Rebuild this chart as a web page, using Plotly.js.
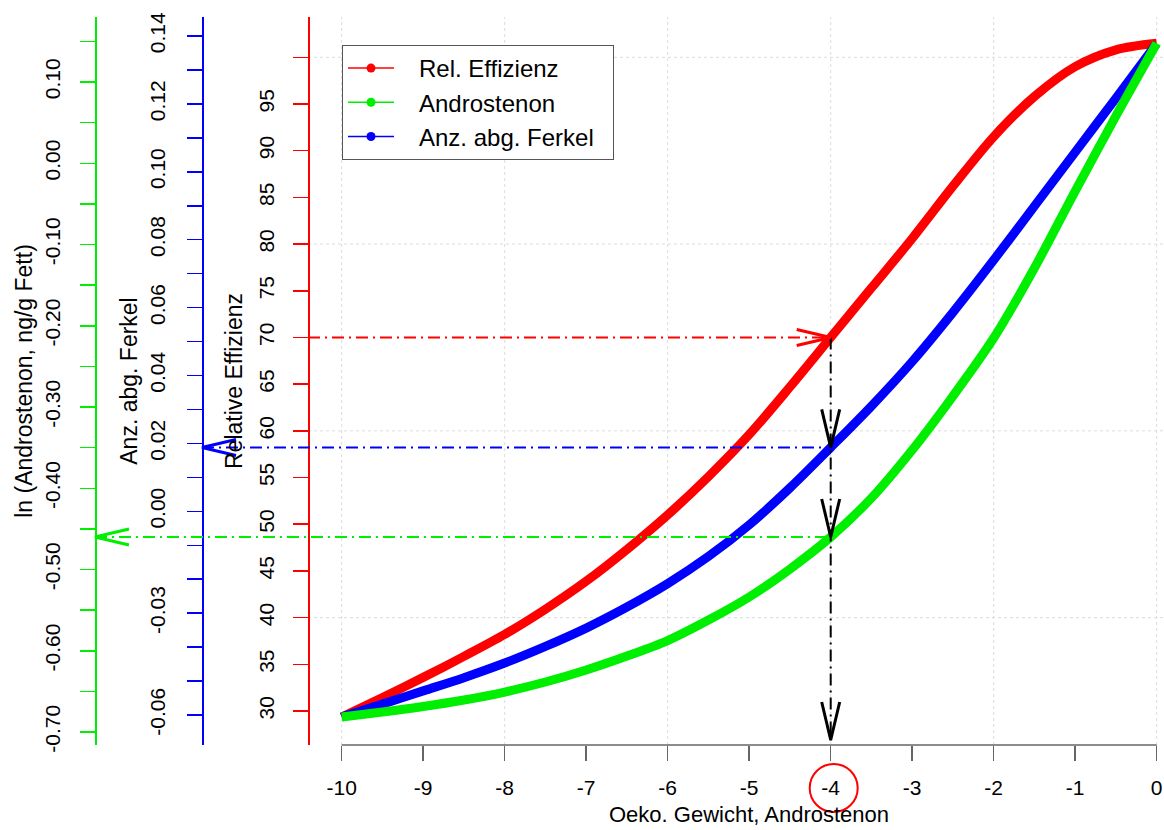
<!DOCTYPE html>
<html>
<head>
<meta charset="utf-8">
<script src="https://cdn.plot.ly/plotly-3.0.1.min.js"></script>
<style>
  html, body { margin: 0; padding: 0; background: #ffffff; }
  #chart { width: 1164px; height: 830px; }
</style>
</head>
<body>
<div id="chart"></div>
<script>
// Economic weight on androstenon and the response of three traits
const oekoGewicht = [-10, -9.5, -9, -8.5, -8, -7.5, -7, -6.5, -6, -5.5, -5, -4.5, -4, -3.5, -3, -2.5, -2, -1.5, -1, -0.5, 0];
const relEffizienz = [29.36, 31.45, 33.6, 35.85, 38.2, 40.9, 43.9, 47.3, 51.0, 55.1, 59.6, 64.7, 70.0, 75.3, 80.6, 86.2, 91.5, 95.8, 99.0, 100.8, 101.5];
const anzAbgFerkel = [-0.0606, -0.0568, -0.0529, -0.0490, -0.0447, -0.0398, -0.0344, -0.0282, -0.0213, -0.0133, -0.0040, 0.0069, 0.0188, 0.0310, 0.0441, 0.0586, 0.0740, 0.0899, 0.1058, 0.1217, 0.1378];
const lnAndrostenon = [-0.6815, -0.6754, -0.6686, -0.6606, -0.6508, -0.6385, -0.6237, -0.6065, -0.5874, -0.5622, -0.5338, -0.4994, -0.4600, -0.4120, -0.3529, -0.2865, -0.2151, -0.1289, -0.0342, 0.0582, 0.1476];

// Tick labels
const xTickVals = [-10, -9, -8, -7, -6, -5, -4, -3, -2, -1, 0];
const effTickVals = [30, 35, 40, 45, 50, 55, 60, 65, 70, 75, 80, 85, 90, 95, 100];
const effTickText = ['30', '35', '40', '45', '50', '55', '60', '65', '70', '75', '80', '85', '90', '95', ''];
const ferkelTickVals = [-0.06, -0.03, 0, 0.02, 0.04, 0.06, 0.08, 0.10, 0.12, 0.14];
const ferkelTickText = ['-0.06', '-0.03', '0.00', '0.02', '0.04', '0.06', '0.08', '0.10', '0.12', '0.14'];
const androTickVals = [-0.7, -0.6, -0.5, -0.4, -0.3, -0.2, -0.1, 0, 0.1];
const androTickText = ['-0.70', '-0.60', '-0.50', '-0.40', '-0.30', '-0.20', '-0.10', '0.00', '0.10'];

// Reference grid
const gridX = [-10, -8, -6, -4, -2, 0];
const gridY = [40, 60, 80, 100];

const markedWeight = -4;

// ---- geometry ----
const W = 1164, H = 830;
const X_DOMAIN = [308 / W, 1];
const Y_DOMAIN = [85 / H, 813 / H];
const X_RANGE = [-10.4135, 0.0896];
const EFF_RANGE = [26.3592, 104.316];
const FERKEL_RANGE = [-0.068837, 0.145596];
const ANDRO_RANGE = [-0.716, 0.18];
const FERKEL_POS = 202 / W;
const ANDRO_POS = 95 / W;

const RED = '#ff0000', GREEN = '#00ee00', BLUE = '#0000ff';
const FONT = 'Liberation Sans, Arial, Helvetica, sans-serif';
const DASH = '12px,5px,2px,5px';
const PAD = '\u00a0\u00a0\u00a0';
const TAIL = '\u00a0\u00a0';

const xToPaper = v => X_DOMAIN[0] + (v - X_RANGE[0]) / (X_RANGE[1] - X_RANGE[0]) * (X_DOMAIN[1] - X_DOMAIN[0]);

const idx = oekoGewicht.indexOf(markedWeight);
const effAt = relEffizienz[idx];
const ferkelAt = anzAbgFerkel[idx];
const androAt = lnAndrostenon[idx];

// ---- traces ----
const curve = (y, axis, color) => ({
  x: oekoGewicht, y: y, yaxis: axis, type: 'scatter', mode: 'lines',
  line: { color: color, width: 9, shape: 'spline', smoothing: 0.9 },
  showlegend: false, hoverinfo: 'skip'
});
const legendEntry = (name, color) => ({
  x: [null], y: [null], type: 'scatter', mode: 'lines+markers', name: PAD + name + TAIL,
  line: { color: color, width: 1.5 }, marker: { color: color, size: 9 }
});

const traces = [
  curve(relEffizienz, 'y', RED),
  curve(anzAbgFerkel, 'y2', BLUE),
  curve(lnAndrostenon, 'y3', GREEN),
  legendEntry('Rel. Effizienz', RED),
  legendEntry('Androstenon', GREEN),
  legendEntry('Anz. abg. Ferkel', BLUE)
];

// ---- shapes: grid, axis line, read-off guides ----
const shapes = [];
gridX.forEach(g => shapes.push({
  type: 'line', layer: 'below', xref: 'x', yref: 'y domain', x0: g, x1: g, y0: 0, y1: 1,
  line: { color: '#dcdcdc', width: 1, dash: 'dot' }
}));
gridY.forEach(g => shapes.push({
  type: 'line', layer: 'below', xref: 'x domain', yref: 'y', x0: 0, x1: 1, y0: g, y1: g,
  line: { color: '#dcdcdc', width: 1, dash: 'dot' }
}));
shapes.push({
  type: 'line', xref: 'x', yref: 'y domain',
  x0: xTickVals[0], x1: xTickVals[xTickVals.length - 1], y0: 0, y1: 0,
  line: { color: '#666666', width: 1.5 }
});

shapes.push({ type: 'line', xref: 'x', yref: 'y', x0: X_RANGE[0], x1: markedWeight, y0: effAt, y1: effAt,
  line: { color: RED, width: 2, dash: DASH } });
shapes.push({ type: 'line', xref: 'paper', yref: 'y2', x0: FERKEL_POS, x1: xToPaper(markedWeight), y0: ferkelAt, y1: ferkelAt,
  line: { color: BLUE, width: 2, dash: DASH } });
shapes.push({ type: 'line', xref: 'paper', yref: 'y3', x0: ANDRO_POS, x1: xToPaper(markedWeight), y0: androAt, y1: androAt,
  line: { color: GREEN, width: 2, dash: DASH } });
shapes.push({ type: 'line', xref: 'x', yref: 'y', x0: markedWeight, x1: markedWeight, y0: effAt, y1: EFF_RANGE[0],
  line: { color: '#000000', width: 2, dash: DASH } });

const head = (xref, yref, xa, ya, path, color) => ({
  type: 'path', xref: xref, yref: yref, xsizemode: 'pixel', ysizemode: 'pixel',
  xanchor: xa, yanchor: ya, path: path, line: { color: color, width: 3 }
});
const RIGHT = 'M-34,8L0,0L-34,-8';
const LEFT = 'M34,8L0,0L34,-8';
const DOWN = 'M-9,38L0,0L9,38';
shapes.push(head('x', 'y', markedWeight, effAt, RIGHT, RED));
shapes.push(head('paper', 'y2', FERKEL_POS, ferkelAt, LEFT, BLUE));
shapes.push(head('paper', 'y3', ANDRO_POS, androAt, LEFT, GREEN));
shapes.push(head('x', 'y2', markedWeight, ferkelAt, DOWN, '#000000'));
shapes.push(head('x', 'y3', markedWeight, androAt, DOWN, '#000000'));
shapes.push(head('x', 'y domain', markedWeight, 0, 'M-9,43L0,5L9,43', '#000000'));

// circle around the chosen weight on the x axis
shapes.push({
  type: 'circle', xref: 'x', yref: 'paper', xsizemode: 'pixel', ysizemode: 'pixel',
  xanchor: markedWeight, yanchor: 42 / H, x0: -21, x1: 27, y0: -24, y1: 24,
  line: { color: RED, width: 2 }
});

const yAxisBase = (color) => ({
  anchor: 'free', side: 'left', showline: true, linecolor: color, linewidth: 1.5,
  ticks: 'outside', ticklen: 15, tickwidth: 1.5, tickcolor: color,
  tickmode: 'array', tickangle: -90,
  tickfont: { size: 21, color: '#000000', family: FONT },
  showgrid: false, zeroline: false, fixedrange: true
});
const titleFont = { size: 23, family: FONT, color: '#000000' };

const layout = {
  width: W, height: H,
  margin: { l: 0, r: 0, t: 0, b: 0 },
  paper_bgcolor: '#ffffff', plot_bgcolor: '#ffffff',
  font: { family: FONT, color: '#000000' },
  showlegend: true,
  legend: {
    x: 342 / W, y: 1 - 45 / H, xanchor: 'left', yanchor: 'top',
    bgcolor: '#ffffff', bordercolor: '#555555', borderwidth: 1,
    font: { size: 24, family: FONT, color: '#000000' },
    itemwidth: 46, tracegroupgap: 0
  },
  xaxis: {
    domain: X_DOMAIN, range: X_RANGE, anchor: 'y',
    tickmode: 'array', tickvals: xTickVals, ticktext: xTickVals.map(String),
    ticks: 'outside', ticklen: 15, tickwidth: 1.5, tickcolor: '#666666',
    tickfont: { size: 21, color: '#000000', family: FONT },
    ticklabelstandoff: 9,
    showline: false, showgrid: false, zeroline: false, fixedrange: true
  },
  yaxis: Object.assign(yAxisBase(RED), {
    domain: Y_DOMAIN, range: EFF_RANGE, position: X_DOMAIN[0],
    tickvals: effTickVals, ticktext: effTickText, ticklabelstandoff: 11,
    title: { text: 'Relative Effizienz', font: titleFont, standoff: 4 }
  }),
  yaxis2: Object.assign(yAxisBase(BLUE), {
    overlaying: 'y', range: FERKEL_RANGE, position: FERKEL_POS,
    tickvals: ferkelTickVals, ticktext: ferkelTickText, ticklabelstandoff: 14,
    minor: { tickmode: 'linear', tick0: 0, dtick: 0.01, ticks: 'outside', ticklen: 15, tickwidth: 1.5, tickcolor: BLUE, showgrid: false },
    title: { text: 'Anz. abg. Ferkel', font: titleFont, standoff: 0 }
  }),
  yaxis3: Object.assign(yAxisBase(GREEN), {
    overlaying: 'y', range: ANDRO_RANGE, position: ANDRO_POS,
    tickvals: androTickVals, ticktext: androTickText, ticklabelstandoff: 12,
    minor: { tickmode: 'linear', tick0: 0, dtick: 0.05, ticks: 'outside', ticklen: 15, tickwidth: 1.5, tickcolor: GREEN, showgrid: false },
    title: { text: 'ln (Androstenon, ng/g Fett)', font: titleFont, standoff: 0 }
  }),
  annotations: [{
    // x axis title, centred on the data span of the x axis
    text: 'Oeko. Gewicht, Androstenon', showarrow: false,
    xref: 'x', x: (xTickVals[0] + xTickVals[xTickVals.length - 1]) / 2,
    yref: 'paper', y: 1 / H, xanchor: 'center', yanchor: 'bottom',
    font: { size: 22, family: FONT, color: '#000000' }
  }],
  shapes: shapes
};

Plotly.newPlot('chart', traces, layout, { displayModeBar: false, staticPlot: true });
</script>
</body>
</html>
